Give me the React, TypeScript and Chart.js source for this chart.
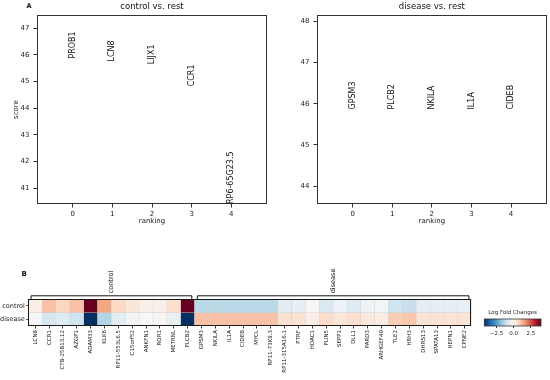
import React, { useEffect, useRef } from 'react';
import { Chart, registerables } from 'chart.js';

Chart.register(...registerables);

const FONT = "'DejaVu Sans', sans-serif";
Chart.defaults.font.family = FONT;
Chart.defaults.color = '#222';

// ---------- Panel A data ----------
const rankX = [0, 1, 2, 3, 4];
const controlGenes = ['PROB1', 'LCN8', 'LIJX1', 'CCR1', 'RP6-65G23.5'];
const controlScores = [45.86, 45.75, 45.65, 44.82, 40.4];
const diseaseGenes = ['GPSM3', 'PLCB2', 'NKILA', 'IL1A', 'CIDEB'];
const diseaseScores = [45.86, 45.86, 45.86, 45.86, 45.86];
const controlYTicks = [41, 42, 43, 44, 45, 46, 47];
const diseaseYTicks = [44, 45, 46, 47, 48];

// ---------- Panel B data ----------
const heatGenes = [
  'LCN8', 'CCR1', 'CTB-25B13.12', 'AZGP1', 'ADAM33', 'KLK6', 'RP11-553L6.5', 'C15orf52',
  'ANKFN1', 'ROR1', 'METRNL', 'PLCB2', 'GPSM3', 'NKILA', 'IL1A', 'CIDEB', 'MYCL',
  'RP11-73K9.3', 'RP11-315A16.1', 'PTRF', 'HDAC1', 'PLIN5', 'SEPP1', 'DLL1', 'PARD3',
  'ARHGEF40', 'TLE2', 'HRH3', 'DHRS13', 'SPATA13', 'HEPN1', 'CPNE2',
];
const rowNames = ['control', 'disease'];
const groupNames = ['control', 'disease'];
const groupSizes = [12, 20];
const controlLFC = [
  0.15, 1.1, 0.75, 1.1, 4.0, 1.5, 0.7, 0.35, 0.1, 0.1, 0.5, 4.0,
  -1.3, -1.3, -1.3, -1.3, -1.3, -1.3, -0.6, -0.5, -0.15, -0.8, -0.4, -0.7, -0.35, -0.25,
  -1.0, -1.1, -0.55, -0.55, -0.5, -0.5,
];
const diseaseLFC = [
  -0.2, -0.9, -0.7, -1.0, -4.3, -1.4, -0.6, -0.3, -0.15, -0.1, -0.45, -4.3,
  1.1, 1.1, 1.1, 1.1, 1.1, 1.1, 0.5, 0.45, 0.12, 0.65, 0.35, 0.55, 0.3, 0.2,
  0.9, 1.0, 0.45, 0.45, 0.4, 0.4,
];
const cbTicks = [-2.5, 0, 2.5];
const V_MIN = -4.3;
const V_MAX = 4.0;

// RdBu_r colormap
const RDBU_R = ['#053061', '#2166ac', '#4393c3', '#92c5de', '#d1e5f0', '#f7f7f7', '#fddbc7', '#f4a582', '#d6604d', '#b2182b', '#67001f'];
const hexRgb = (h: string) => [1, 3, 5].map((i) => parseInt(h.slice(i, i + 2), 16));
function cmap(v: number) {
  let t = (v - V_MIN) / (V_MAX - V_MIN);
  t = Math.max(0, Math.min(1, t));
  const pos = t * (RDBU_R.length - 1);
  const i = Math.min(Math.floor(pos), RDBU_R.length - 2);
  const f = pos - i;
  const a = hexRgb(RDBU_R[i]);
  const b = hexRgb(RDBU_R[i + 1]);
  const c = a.map((av, k) => Math.round(av + (b[k] - av) * f));
  return `rgb(${c[0]},${c[1]},${c[2]})`;
}

// ---------- plugins ----------
const rankPlugin = {
  id: 'rankPanel',
  afterDatasetsDraw(chart: any, _a: any, opts: any) {
    const { ctx, chartArea: ca, scales } = chart;
    const { x, y } = scales;
    ctx.save();
    ctx.strokeStyle = '#333';
    ctx.lineWidth = 1;
    ctx.strokeRect(Math.round(ca.left) + 0.5, Math.round(ca.top) + 0.5, Math.round(ca.right - ca.left) - 1, Math.round(ca.bottom - ca.top) - 1);
    ctx.fillStyle = '#111';
    ctx.font = `8px ${FONT}`;
    const ds = chart.data.datasets[0];
    ds.data.forEach((p: any) => {
      const px = x.getPixelForValue(p.x);
      const py = y.getPixelForValue(p.y);
      ctx.save();
      ctx.translate(px, py);
      ctx.rotate(-Math.PI / 2);
      ctx.textAlign = 'left';
      ctx.textBaseline = 'middle';
      ctx.fillText(p.label, 0, 0);
      ctx.restore();
    });
    ctx.font = `8.5px ${FONT}`;
    ctx.textAlign = 'center';
    ctx.textBaseline = 'middle';
    ctx.fillText(opts.title, (ca.left + ca.right) / 2, 7);
    if (opts.letter) {
      ctx.font = `bold 6.5px ${FONT}`;
      ctx.textAlign = 'left';
      ctx.fillText(opts.letter, 26.5, 6);
    }
    ctx.restore();
  },
};

const heatPlugin = {
  id: 'heatPanel',
  afterDatasetsDraw(chart: any) {
    const { ctx, chartArea: ca, scales } = chart;
    const x = scales.x;
    ctx.save();
    ctx.strokeStyle = '#1a1a1a';
    ctx.lineWidth = 1;
    ctx.strokeRect(Math.round(ca.left) + 0.5, Math.round(ca.top) + 0.5, Math.round(ca.right - ca.left) - 1, Math.round(ca.bottom - ca.top) - 1);
    const colW = x.getPixelForValue(1) - x.getPixelForValue(0);
    let start = 0;
    const by = ca.top - 3.5;
    groupSizes.forEach((n, gi) => {
      const l = x.getPixelForValue(start) - 0.3 * colW;
      const r = x.getPixelForValue(start + n - 1) + 0.3 * colW;
      ctx.beginPath();
      ctx.moveTo(l, ca.top);
      ctx.lineTo(l, by);
      ctx.lineTo(r, by);
      ctx.lineTo(r, ca.top);
      ctx.strokeStyle = '#111';
      ctx.lineWidth = 1;
      ctx.stroke();
      ctx.save();
      ctx.translate((l + r) / 2, by - 2.5);
      ctx.rotate(-Math.PI / 2);
      ctx.fillStyle = '#111';
      ctx.font = `6.5px ${FONT}`;
      ctx.textAlign = 'left';
      ctx.textBaseline = 'middle';
      ctx.fillText(groupNames[gi], 0, 0);
      ctx.restore();
      start += n;
    });
    ctx.fillStyle = '#111';
    ctx.font = `bold 7px ${FONT}`;
    ctx.textAlign = 'left';
    ctx.textBaseline = 'middle';
    ctx.fillText('B', 21.5, 14);
    ctx.restore();
  },
};

const cbPlugin = {
  id: 'colorbar',
  beforeDatasetsDraw(chart: any) {
    const { ctx, chartArea: ca, scales } = chart;
    const x = scales.x;
    ctx.save();
    const g = ctx.createLinearGradient(x.getPixelForValue(V_MIN), 0, x.getPixelForValue(V_MAX), 0);
    RDBU_R.forEach((c, i) => g.addColorStop(i / (RDBU_R.length - 1), c));
    ctx.fillStyle = g;
    ctx.fillRect(ca.left, ca.top, ca.right - ca.left, ca.bottom - ca.top);
    ctx.strokeStyle = '#333';
    ctx.lineWidth = 0.8;
    ctx.strokeRect(ca.left, ca.top, ca.right - ca.left, ca.bottom - ca.top);
    ctx.fillStyle = '#222';
    ctx.font = `5.5px ${FONT}`;
    ctx.textAlign = 'center';
    ctx.textBaseline = 'middle';
    ctx.fillText('Log Fold Changes', (ca.left + ca.right) / 2, 13);
    ctx.restore();
  },
};

// ---------- chart builders ----------
function rankChart(
  canvas: HTMLCanvasElement,
  genes: string[],
  scores: number[],
  yTicks: number[],
  title: string,
  letter: string,
  yWidth: number,
  padRight: number,
  showYTitle: boolean,
) {
  const lo = Math.min(...scores);
  const hi = Math.max(...scores);
  let yMin = lo;
  let yMax = hi + 0.3 * (hi - lo);
  if (yMax === yMin) {
    yMin = lo - 0.05 * Math.abs(lo);
    yMax = hi + 0.05 * Math.abs(hi);
  }
  return new Chart(canvas, {
    type: 'scatter',
    data: {
      datasets: [
        {
          data: genes.map((g, i) => ({ x: rankX[i], y: scores[i], label: g })) as any,
          pointRadius: 0,
        },
      ],
    },
    options: {
      responsive: false,
      animation: false,
      layout: { padding: { left: 0, top: 15, right: padRight, bottom: 0 } },
      plugins: {
        legend: { display: false },
        tooltip: { enabled: false },
        rankPanel: { title, letter },
      } as any,
      scales: {
        x: {
          type: 'linear',
          min: -0.9,
          max: 4.9,
          afterBuildTicks: (s: any) => {
            s.ticks = rankX.map((v) => ({ value: v }));
          },
          afterFit: (s: any) => {
            s.height = 31;
          },
          border: { display: false },
          grid: { drawOnChartArea: false, tickLength: 3.5, color: '#333' },
          ticks: { font: { size: 7 }, color: '#222', padding: 2 },
          title: { display: true, text: 'ranking', font: { size: 7 }, color: '#222', padding: { top: 0, bottom: 9.8 } },
        },
        y: {
          type: 'linear',
          min: yMin,
          max: yMax,
          afterBuildTicks: (s: any) => {
            s.ticks = yTicks.map((v) => ({ value: v }));
          },
          afterFit: (s: any) => {
            s.width = yWidth;
          },
          border: { display: false },
          grid: { drawOnChartArea: false, tickLength: 3.5, color: '#333' },
          ticks: { font: { size: 7 }, color: '#222', padding: 4 },
          title: { display: showYTitle, text: 'score', font: { size: 7 }, color: '#222', padding: { top: 11.8, bottom: 0 } },
        },
      },
    } as any,
    plugins: [rankPlugin],
  });
}

function heatChart(canvas: HTMLCanvasElement) {
  const rows = [controlLFC, diseaseLFC];
  return new Chart(canvas, {
    type: 'bar',
    data: {
      labels: heatGenes,
      datasets: rows.map((vals, r) => ({
        label: rowNames[r],
        data: heatGenes.map(() => [r, r + 1]),
        backgroundColor: vals.map(cmap),
        borderColor: 'rgba(190,190,190,0.55)',
        borderWidth: 0.5,
        borderSkipped: false,
        grouped: false,
        categoryPercentage: 1,
        barPercentage: 1,
      })) as any,
    },
    options: {
      responsive: false,
      animation: false,
      layout: { padding: { left: 0, top: 39.3, right: 8.3, bottom: 0 } },
      plugins: { legend: { display: false }, tooltip: { enabled: false } },
      scales: {
        x: {
          type: 'category',
          offset: true,
          afterFit: (s: any) => {
            s.height = 54;
          },
          border: { display: false },
          grid: { offset: false, drawOnChartArea: false, tickLength: 2.5, color: '#333' },
          ticks: { autoSkip: false, maxRotation: 90, minRotation: 90, font: { size: 5.5 }, color: '#222', padding: 1.5 },
        },
        y: {
          type: 'linear',
          min: 0,
          max: 2,
          reverse: true,
          afterBuildTicks: (s: any) => {
            s.ticks = rowNames.map((_, i) => ({ value: i + 0.5 }));
          },
          afterFit: (s: any) => {
            s.width = 28.3;
          },
          border: { display: false },
          grid: { drawOnChartArea: false, tickLength: 2, color: '#333' },
          ticks: {
            font: { size: 6.5 },
            color: '#222',
            padding: 1.5,
            callback: (v: any) => rowNames[Math.floor(Number(v))],
          },
        },
      },
    } as any,
    plugins: [heatPlugin],
  });
}

function colorbarChart(canvas: HTMLCanvasElement) {
  return new Chart(canvas, {
    type: 'scatter',
    data: { datasets: [{ data: [], pointRadius: 0 }] },
    options: {
      responsive: false,
      animation: false,
      layout: { padding: { left: 14.3, top: 19, right: 9, bottom: 0 } },
      plugins: { legend: { display: false }, tooltip: { enabled: false } },
      scales: {
        x: {
          type: 'linear',
          min: V_MIN,
          max: V_MAX,
          afterBuildTicks: (s: any) => {
            s.ticks = cbTicks.map((v) => ({ value: v }));
          },
          afterFit: (s: any) => {
            s.height = 16;
          },
          border: { display: false },
          grid: { drawOnChartArea: false, tickLength: 2, color: '#333' },
          ticks: {
            font: { size: 5.5 },
            color: '#222',
            padding: 2,
            callback: (v: any) => Number(v).toFixed(1).replace('-', '\u2212'),
          },
        },
        y: { display: false, min: 0, max: 1 },
      },
    } as any,
    plugins: [cbPlugin],
  });
}

function ChartCanvas(props: { left: number; top: number; width: number; height: number; make: (c: HTMLCanvasElement) => Chart }) {
  const ref = useRef<HTMLCanvasElement>(null);
  const { left, top, width, height, make } = props;
  useEffect(() => {
    const chart = make(ref.current!);
    return () => chart.destroy();
  }, []);
  return (
    <canvas
      ref={ref}
      width={width}
      height={height}
      style={{ position: 'absolute', left, top, width, height }}
    />
  );
}

export default function App() {
  return (
    <div style={{ position: 'absolute', left: 0, top: 0, width: 550, height: 380, background: '#fff', overflow: 'hidden' }}>
      <ChartCanvas
        left={0}
        top={0}
        width={275}
        height={235}
        make={(c) => rankChart(c, controlGenes, controlScores, controlYTicks, 'control vs. rest', 'A', 37, 8, true)}
      />
      <ChartCanvas
        left={275}
        top={0}
        width={275}
        height={235}
        make={(c) => rankChart(c, diseaseGenes, diseaseScores, diseaseYTicks, 'disease vs. rest', '', 42, 3.3, false)}
      />
      <ChartCanvas left={0} top={260} width={480} height={120} make={heatChart} />
      <ChartCanvas left={470} top={300} width={80} height={42} make={colorbarChart} />
    </div>
  );
}
